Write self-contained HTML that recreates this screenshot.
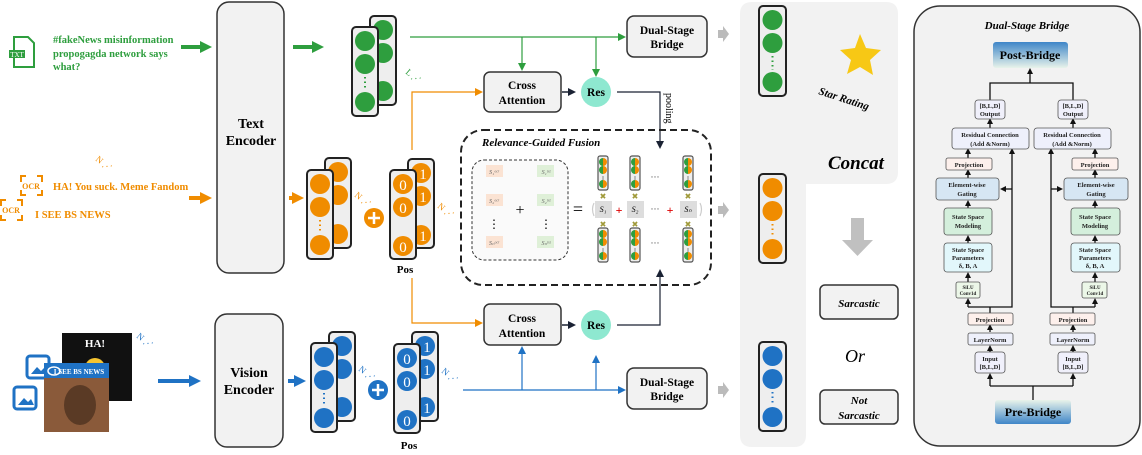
<!DOCTYPE html>
<html><head><meta charset="utf-8"><style>
html,body{margin:0;padding:0;background:#fff}
svg text{font-family:"Liberation Serif",serif}
</style></head><body>
<svg width="1142" height="450" viewBox="0 0 1142 450" xmlns="http://www.w3.org/2000/svg">
<defs>
<marker id="ag" markerWidth="8" markerHeight="8" refX="6" refY="4" orient="auto" markerUnits="userSpaceOnUse"><path d="M0,0 L8,4 L0,8z" fill="#2e9e3e"/></marker>
<marker id="ao" markerWidth="8" markerHeight="8" refX="6" refY="4" orient="auto" markerUnits="userSpaceOnUse"><path d="M0,0 L8,4 L0,8z" fill="#f08c00"/></marker>
<marker id="ab" markerWidth="8" markerHeight="8" refX="6" refY="4" orient="auto" markerUnits="userSpaceOnUse"><path d="M0,0 L8,4 L0,8z" fill="#1f72c4"/></marker>
<marker id="Ag" markerWidth="12" markerHeight="12" refX="6" refY="6" orient="auto" markerUnits="userSpaceOnUse"><path d="M0,0 L12,6 L0,12z" fill="#2e9e3e"/></marker>
<marker id="Ao" markerWidth="12" markerHeight="12" refX="6" refY="6" orient="auto" markerUnits="userSpaceOnUse"><path d="M0,0 L12,6 L0,12z" fill="#f08c00"/></marker>
<marker id="Ab" markerWidth="12" markerHeight="12" refX="6" refY="6" orient="auto" markerUnits="userSpaceOnUse"><path d="M0,0 L12,6 L0,12z" fill="#1f72c4"/></marker>
<marker id="ak" markerWidth="8" markerHeight="8" refX="6" refY="4" orient="auto" markerUnits="userSpaceOnUse"><path d="M0,0 L8,4 L0,8z" fill="#1a2233"/></marker>
<marker id="as" markerWidth="6" markerHeight="6" refX="4" refY="3" orient="auto" markerUnits="userSpaceOnUse"><path d="M0,0 L6,3 L0,6z" fill="#111"/></marker>
<linearGradient id="gb" x1="0" y1="0" x2="0" y2="1"><stop offset="0" stop-color="#3f86c8"/><stop offset="1" stop-color="#e8f3ea"/></linearGradient>
<linearGradient id="gb2" x1="0" y1="0" x2="0" y2="1"><stop offset="0" stop-color="#e8f3ea"/><stop offset="1" stop-color="#3f86c8"/></linearGradient>
<linearGradient id="og" x1="0" y1="0" x2="1" y2="0"><stop offset="0.5" stop-color="#2e9e3e"/><stop offset="0.5" stop-color="#f08c00"/></linearGradient>
<g id="mini"><rect x="-5" y="0" width="10" height="34" rx="2" fill="#eee" stroke="#555" stroke-width="1.2"/><circle cy="6" r="4" fill="url(#og)"/><circle cy="14" r="4" fill="url(#og)"/><line x1="0" y1="20" x2="0" y2="24" stroke="#888"/><circle cy="28" r="4" fill="url(#og)"/></g>
</defs>

<!-- TEXT row -->
<g fill="none" stroke="#2e9e3e" stroke-width="2"><path d="M14,37 h14 l6,6 v24 h-20z"/></g>
<rect x="9" y="50" width="16" height="8" fill="#2e9e3e"/><text x="17" y="57" font-size="7" fill="#fff" text-anchor="middle" font-family="Liberation Sans">TXT</text>
<g font-size="10.5" font-weight="bold" fill="#2e9e3e"><text x="53" y="43">#fakeNews misinformation</text><text x="53" y="57">propogagda network says</text><text x="53" y="70">what?</text></g>
<line x1="181" y1="47" x2="206" y2="47" stroke="#2e9e3e" stroke-width="4" marker-end="url(#Ag)"/>
<line x1="293" y1="47" x2="318" y2="47" stroke="#2e9e3e" stroke-width="4" marker-end="url(#Ag)"/>

<rect x="217" y="2" width="67" height="271" rx="12" fill="#f2f2f2" stroke="#333" stroke-width="1.5"/>
<text x="251" y="128" font-size="14" font-weight="bold" text-anchor="middle">Text</text>
<text x="251" y="145" font-size="14" font-weight="bold" text-anchor="middle">Encoder</text>

<!-- green stacks -->
<rect x="370" y="16" width="26" height="89" rx="4" fill="#eee" stroke="#222" stroke-width="2"/>
<circle cx="383" cy="30" r="10" fill="#2e9e3e"/><circle cx="383" cy="53" r="10" fill="#2e9e3e"/><circle cx="383" cy="91" r="10" fill="#2e9e3e"/>
<rect x="352" y="27" width="26" height="89" rx="4" fill="#eee" stroke="#222" stroke-width="2"/>
<circle cx="365" cy="41" r="10" fill="#2e9e3e"/><circle cx="365" cy="64" r="10" fill="#2e9e3e"/><circle cx="365" cy="102" r="10" fill="#2e9e3e"/>
<line x1="365" y1="77" x2="365" y2="90" stroke="#2e9e3e" stroke-width="2" stroke-dasharray="1.5,3"/>
<text x="405" y="73" font-size="9" fill="#2e9e3e" transform="rotate(40 405 73)">L ⋰</text>

<!-- green lines -->
<line x1="410" y1="37" x2="624" y2="37" stroke="#2e9e3e" stroke-width="1.2" marker-end="url(#ag)"/>
<line x1="522" y1="37" x2="522" y2="69" stroke="#2e9e3e" stroke-width="1.2" marker-end="url(#ag)"/>
<line x1="596" y1="37" x2="596" y2="75" stroke="#2e9e3e" stroke-width="1.2" marker-end="url(#ag)"/>

<rect x="627" y="16" width="80" height="41" rx="7" fill="#f2f2f2" stroke="#333" stroke-width="1.5"/>
<text x="667" y="34" font-size="11.5" font-weight="bold" text-anchor="middle">Dual-Stage</text>
<text x="667" y="48" font-size="11.5" font-weight="bold" text-anchor="middle">Bridge</text>

<!-- OCR row -->
<g fill="none" stroke="#f08c00" stroke-width="2">
<path d="M21,182 v-6 h5 M37,176 h5 v6 M21,190 v5 h5 M37,195 h5 v-5"/>
<path d="M1,206 v-6 h5 M17,200 h5 v6 M1,215 v5 h5 M17,220 h5 v-5"/>
</g>
<text x="31" y="189" font-size="8" fill="#f08c00" text-anchor="middle" font-family="Liberation Sans" font-weight="bold">OCR</text>
<text x="11" y="213" font-size="8" fill="#f08c00" text-anchor="middle" font-family="Liberation Sans" font-weight="bold">OCR</text>
<g font-size="10.5" font-weight="bold" fill="#f08c00"><text x="53" y="190">HA! You suck. Meme Fandom</text><text x="35" y="218">I SEE BS NEWS</text></g>
<text x="95" y="160" font-size="9" fill="#f08c00" transform="rotate(40 95 160)">N ⋰</text>
<line x1="189" y1="198" x2="206" y2="198" stroke="#f08c00" stroke-width="4" marker-end="url(#Ao)"/>
<line x1="289" y1="198" x2="298" y2="198" stroke="#f08c00" stroke-width="4" marker-end="url(#Ao)"/>

<!-- orange stacks -->
<rect x="325" y="158" width="26" height="90" rx="4" fill="#eee" stroke="#222" stroke-width="2"/>
<circle cx="338" cy="172" r="10" fill="#f08c00"/><circle cx="338" cy="195" r="10" fill="#f08c00"/><circle cx="338" cy="234" r="10" fill="#f08c00"/>
<rect x="307" y="170" width="26" height="89" rx="4" fill="#eee" stroke="#222" stroke-width="2"/>
<circle cx="320" cy="184" r="10" fill="#f08c00"/><circle cx="320" cy="207" r="10" fill="#f08c00"/><circle cx="320" cy="245" r="10" fill="#f08c00"/>
<line x1="320" y1="220" x2="320" y2="233" stroke="#f08c00" stroke-width="2" stroke-dasharray="1.5,3"/>
<text x="354" y="196" font-size="9" fill="#f08c00" transform="rotate(40 354 196)">N ⋰</text>
<circle cx="374" cy="218" r="10" fill="#f08c00"/><path d="M368,218 h12 M374,212 v12" stroke="#fff" stroke-width="2.5"/>
<rect x="408" y="159" width="26" height="89" rx="4" fill="#eee" stroke="#222" stroke-width="2"/>
<g fill="#f08c00"><circle cx="421" cy="173" r="10"/><circle cx="421" cy="196" r="10"/><circle cx="421" cy="235" r="10"/></g>
<rect x="390" y="170" width="26" height="89" rx="4" fill="#eee" stroke="#222" stroke-width="2"/>
<g fill="#f08c00"><circle cx="403" cy="184" r="10"/><circle cx="403" cy="207" r="10"/><circle cx="403" cy="246" r="10"/></g>
<g font-family="Liberation Sans" font-size="15" fill="#fff" text-anchor="middle"><text x="403" y="190">0</text><text x="403" y="213">0</text><text x="403" y="252">0</text><text x="423" y="179">1</text><text x="423" y="202">1</text><text x="423" y="241">1</text></g>
<text x="437" y="207" font-size="9" fill="#f08c00" transform="rotate(40 437 207)">N ⋰</text>
<text x="405" y="273" font-size="11" font-weight="bold" text-anchor="middle">Pos</text>

<!-- orange lines -->
<path d="M412,150 V92 H481" fill="none" stroke="#f08c00" stroke-width="1.2" marker-end="url(#ao)"/>
<path d="M412,278 V323 H481" fill="none" stroke="#f08c00" stroke-width="1.2" marker-end="url(#ao)"/>

<!-- cross attention -->
<rect x="484" y="72" width="77" height="40" rx="6" fill="#f2f2f2" stroke="#333" stroke-width="1.5"/>
<text x="522" y="89" font-size="11.5" font-weight="bold" text-anchor="middle">Cross</text>
<text x="522" y="104" font-size="11.5" font-weight="bold" text-anchor="middle">Attention</text>
<rect x="484" y="304" width="77" height="41" rx="6" fill="#f2f2f2" stroke="#333" stroke-width="1.5"/>
<text x="522" y="322" font-size="11.5" font-weight="bold" text-anchor="middle">Cross</text>
<text x="522" y="337" font-size="11.5" font-weight="bold" text-anchor="middle">Attention</text>
<line x1="562" y1="92" x2="574" y2="92" stroke="#1a2233" stroke-width="1.5" marker-end="url(#ak)"/>
<line x1="562" y1="325" x2="574" y2="325" stroke="#1a2233" stroke-width="1.5" marker-end="url(#ak)"/>
<circle cx="596" cy="92" r="15" fill="#8ee8d0"/><text x="596" y="96" font-size="11.5" font-weight="bold" text-anchor="middle">Res</text>
<circle cx="596" cy="325" r="15" fill="#8ee8d0"/><text x="596" y="329" font-size="11.5" font-weight="bold" text-anchor="middle">Res</text>
<path d="M617,92 H660 V147" fill="none" stroke="#1a2233" stroke-width="1.2" marker-end="url(#ak)"/>
<path d="M617,325 H660 V271" fill="none" stroke="#1a2233" stroke-width="1.2" marker-end="url(#ak)"/>
<text x="666" y="93" font-size="10" transform="rotate(90 666 93)">pooling</text>

<!-- fusion box -->
<rect x="461" y="130" width="250" height="155" rx="22" fill="none" stroke="#222" stroke-width="2" stroke-dasharray="7,4"/>
<text x="482" y="146" font-size="11" font-weight="bold" font-style="italic">Relevance-Guided Fusion</text>
<rect x="472" y="160" width="96" height="100" rx="12" fill="#fafafa" stroke="#333" stroke-width="1" stroke-dasharray="3,2"/>
<g fill="#fbe3d3"><rect x="486" y="165" width="17" height="12"/><rect x="486" y="194" width="17" height="12"/><rect x="486" y="236" width="17" height="12"/></g>
<g fill="#dff0d8"><rect x="537" y="165" width="17" height="12"/><rect x="537" y="194" width="17" height="12"/><rect x="537" y="236" width="17" height="12"/></g>
<g font-size="6" font-style="italic" fill="#666" text-anchor="middle"><text x="494" y="174">S₁ᵒᶜʳ</text><text x="494" y="203">S₂ᵒᶜʳ</text><text x="494" y="245">Sₙᵒᶜʳ</text><text x="546" y="174">S₁ᵗˣᵗ</text><text x="546" y="203">S₂ᵗˣᵗ</text><text x="546" y="245">Sₙᵗˣᵗ</text></g>
<text x="494" y="228" font-size="12" text-anchor="middle">⋮</text><text x="546" y="228" font-size="12" text-anchor="middle">⋮</text>
<text x="520" y="215" font-size="16" text-anchor="middle">+</text>
<text x="578" y="215" font-size="18" text-anchor="middle">=</text>
<use href="#mini" x="603" y="156"/><use href="#mini" x="635" y="156"/><use href="#mini" x="688" y="156"/>
<use href="#mini" x="603" y="228"/><use href="#mini" x="635" y="228"/><use href="#mini" x="688" y="228"/>
<g fill="#a09a3a" font-size="8" text-anchor="middle" font-family="Liberation Sans"><text x="603" y="199">✖</text><text x="635" y="199">✖</text><text x="688" y="199">✖</text><text x="603" y="227">✖</text><text x="635" y="227">✖</text><text x="688" y="227">✖</text></g>
<g fill="#ddd"><rect x="595" y="201" width="17" height="17"/><rect x="627" y="201" width="17" height="17"/><rect x="680" y="201" width="17" height="17"/></g>
<g font-size="8" font-style="italic" text-anchor="middle"><text x="603" y="212">S₁</text><text x="635" y="212">S₂</text><text x="688" y="212">Sₙ</text></g>
<g fill="#d00" font-size="12" font-weight="bold" text-anchor="middle"><text x="619" y="214">+</text><text x="670" y="214">+</text></g>
<g font-size="9" text-anchor="middle" fill="#333"><text x="655" y="212">···</text><text x="655" y="180">···</text><text x="655" y="246">···</text></g>
<path d="M594,203 q-3,6 0,13 M700,203 q3,6 0,13" fill="none" stroke="#ccc" stroke-width="1.2"/>

<!-- vision row -->
<rect x="62" y="333" width="70" height="68" fill="#111"/>
<text x="95" y="347" font-size="11" fill="#fff" text-anchor="middle" font-family="Liberation Sans" font-weight="bold">HA!</text>
<circle cx="95" cy="368" r="10" fill="#f7c531"/>
<rect x="27" y="356" width="22" height="22" rx="3" fill="#fff" stroke="#1f72c4" stroke-width="3"/>
<path d="M31,374 l6,-7 l4,4 l3,-3 l3,6z" fill="#1f72c4"/>
<rect x="44" y="363" width="65" height="15" fill="#1f72c4"/>
<text x="79" y="374" font-size="7" fill="#fff" text-anchor="middle" font-family="Liberation Sans" font-weight="bold">I SEE BS NEWS</text>
<ellipse cx="54" cy="371" rx="6" ry="4" fill="none" stroke="#fff" stroke-width="1.5"/>
<rect x="44" y="378" width="65" height="54" fill="#8a5a3a"/>
<ellipse cx="80" cy="405" rx="16" ry="20" fill="#5a3a25"/>
<rect x="14" y="387" width="22" height="22" rx="3" fill="#fff" stroke="#1f72c4" stroke-width="3"/>
<path d="M18,405 l6,-7 l4,4 l3,-3 l3,6z" fill="#1f72c4"/>
<text x="136" y="337" font-size="9" fill="#1f72c4" transform="rotate(40 136 337)">N ⋰</text>
<line x1="158" y1="381" x2="195" y2="381" stroke="#1f72c4" stroke-width="4" marker-end="url(#Ab)"/>
<rect x="215" y="314" width="68" height="133" rx="12" fill="#f2f2f2" stroke="#333" stroke-width="1.5"/>
<text x="249" y="377" font-size="14" font-weight="bold" text-anchor="middle">Vision</text>
<text x="249" y="394" font-size="14" font-weight="bold" text-anchor="middle">Encoder</text>
<line x1="288" y1="381" x2="300" y2="381" stroke="#1f72c4" stroke-width="4" marker-end="url(#Ab)"/>
<rect x="329" y="332" width="26" height="89" rx="4" fill="#eee" stroke="#222" stroke-width="2"/>
<g fill="#1f72c4"><circle cx="342" cy="346" r="10"/><circle cx="342" cy="369" r="10"/><circle cx="342" cy="407" r="10"/></g>
<rect x="311" y="343" width="26" height="89" rx="4" fill="#eee" stroke="#222" stroke-width="2"/>
<g fill="#1f72c4"><circle cx="324" cy="357" r="10"/><circle cx="324" cy="380" r="10"/><circle cx="324" cy="418" r="10"/></g>
<line x1="324" y1="393" x2="324" y2="406" stroke="#1f72c4" stroke-width="2" stroke-dasharray="1.5,3"/>
<text x="358" y="370" font-size="9" fill="#1f72c4" transform="rotate(40 358 370)">N ⋰</text>
<circle cx="378" cy="390" r="10" fill="#1f72c4"/><path d="M372,390 h12 M378,384 v12" stroke="#fff" stroke-width="2.5"/>
<rect x="412" y="332" width="26" height="89" rx="4" fill="#eee" stroke="#222" stroke-width="2"/>
<g fill="#1f72c4"><circle cx="425" cy="346" r="10"/><circle cx="425" cy="369" r="10"/><circle cx="425" cy="407" r="10"/></g>
<rect x="394" y="344" width="26" height="89" rx="4" fill="#eee" stroke="#222" stroke-width="2"/>
<g fill="#1f72c4"><circle cx="407" cy="358" r="10"/><circle cx="407" cy="381" r="10"/><circle cx="407" cy="420" r="10"/></g>
<g font-family="Liberation Sans" font-size="15" fill="#fff" text-anchor="middle"><text x="407" y="364">0</text><text x="407" y="387">0</text><text x="407" y="426">0</text><text x="427" y="352">1</text><text x="427" y="375">1</text><text x="427" y="413">1</text></g>
<text x="441" y="372" font-size="9" fill="#1f72c4" transform="rotate(40 441 372)">N ⋰</text>
<text x="409" y="449" font-size="11" font-weight="bold" text-anchor="middle">Pos</text>
<line x1="463" y1="390" x2="624" y2="390" stroke="#1f72c4" stroke-width="1.2" marker-end="url(#ab)"/>
<line x1="522" y1="390" x2="522" y2="348" stroke="#1f72c4" stroke-width="1.2" marker-end="url(#ab)"/>
<line x1="596" y1="390" x2="596" y2="357" stroke="#1f72c4" stroke-width="1.2" marker-end="url(#ab)"/>
<rect x="627" y="368" width="80" height="41" rx="7" fill="#f2f2f2" stroke="#333" stroke-width="1.5"/>
<text x="667" y="386" font-size="11.5" font-weight="bold" text-anchor="middle">Dual-Stage</text>
<text x="667" y="400" font-size="11.5" font-weight="bold" text-anchor="middle">Bridge</text>

<!-- gray arrows -->
<g fill="#bbb"><path d="M718,30 h5 v-4 l6,8 l-6,8 v-4 h-5z"/><path d="M718,206 h5 v-4 l6,8 l-6,8 v-4 h-5z"/><path d="M718,386 h5 v-4 l6,8 l-6,8 v-4 h-5z"/></g>

<!-- concat panel -->
<path d="M752,2 H886 Q898,2 898,14 V172 Q898,184 886,184 H806 V435 Q806,447 794,447 H752 Q740,447 740,435 V14 Q740,2 752,2z" fill="#f2f2f2"/>
<rect x="759" y="6" width="27" height="90" rx="4" fill="#eee" stroke="#222" stroke-width="2"/>
<g fill="#2e9e3e"><circle cx="772.5" cy="20" r="10"/><circle cx="772.5" cy="43" r="10"/><circle cx="772.5" cy="82" r="10"/></g>
<line x1="772.5" y1="56" x2="772.5" y2="70" stroke="#2e9e3e" stroke-width="2" stroke-dasharray="1.5,3"/>
<rect x="759" y="174" width="27" height="89" rx="4" fill="#eee" stroke="#222" stroke-width="2"/>
<g fill="#f08c00"><circle cx="772.5" cy="188" r="10"/><circle cx="772.5" cy="211" r="10"/><circle cx="772.5" cy="249" r="10"/></g>
<line x1="772.5" y1="224" x2="772.5" y2="237" stroke="#f08c00" stroke-width="2" stroke-dasharray="1.5,3"/>
<rect x="759" y="342" width="27" height="89" rx="4" fill="#eee" stroke="#222" stroke-width="2"/>
<g fill="#1f72c4"><circle cx="772.5" cy="356" r="10"/><circle cx="772.5" cy="379" r="10"/><circle cx="772.5" cy="417" r="10"/></g>
<line x1="772.5" y1="392" x2="772.5" y2="405" stroke="#1f72c4" stroke-width="2" stroke-dasharray="1.5,3"/>
<path d="M860,34 l6,14 l15,2 l-11,10 l3,15 l-13,-8 l-13,7 l4,-14 l-11,-10 l15,-2z" fill="#f7c815"/>
<text x="818" y="94" font-size="11" font-weight="bold" font-style="italic" transform="rotate(18 818 94)">Star Rating</text>
<text x="828" y="169" font-size="19" font-weight="bold" font-style="italic">Concat</text>
<path d="M851,218 h13 v22 h9 l-15.5,16 l-15.5,-16 h9z" fill="#c0c0c0"/>
<rect x="820" y="285" width="78" height="34" rx="5" fill="#f2f2f2" stroke="#333" stroke-width="1.5"/>
<text x="859" y="307" font-size="11" font-weight="bold" font-style="italic" text-anchor="middle">Sarcastic</text>
<text x="855" y="362" font-size="18" font-style="italic" text-anchor="middle">Or</text>
<rect x="820" y="390" width="78" height="34" rx="5" fill="#f2f2f2" stroke="#333" stroke-width="1.5"/>
<text x="859" y="404" font-size="11" font-weight="bold" font-style="italic" text-anchor="middle">Not</text>
<text x="859" y="419" font-size="11" font-weight="bold" font-style="italic" text-anchor="middle">Sarcastic</text>

<!-- Dual-stage bridge panel -->
<rect x="914" y="6" width="226" height="440" rx="26" fill="#f2f2f2" stroke="#333" stroke-width="1.5"/>
<text x="1027" y="29" font-size="11" font-weight="bold" font-style="italic" text-anchor="middle">Dual-Stage Bridge</text>
<rect x="993" y="42" width="75" height="26" rx="3" fill="url(#gb)"/>
<text x="1030" y="59" font-size="12" font-weight="bold" text-anchor="middle">Post-Bridge</text>
<rect x="995" y="400" width="76" height="24" rx="3" fill="url(#gb2)"/>
<text x="1033" y="416" font-size="12" font-weight="bold" text-anchor="middle">Pre-Bridge</text>

<g fill="none" stroke="#111" stroke-width="1.3">
<path d="M990,100 V83 H1073 V100"/>
<line x1="1030" y1="83" x2="1030" y2="70" marker-end="url(#as)"/>
<path d="M1033,400 V386 H990 M1033,386 H1073"/>
<line x1="990" y1="386" x2="990" y2="375" marker-end="url(#as)"/>
<line x1="1073" y1="386" x2="1073" y2="375" marker-end="url(#as)"/>
<line x1="990" y1="352" x2="990" y2="347" marker-end="url(#as)"/>
<line x1="990" y1="332" x2="990" y2="326" marker-end="url(#as)"/>
<path d="M990,313 V307 H968 M990,307 H1012 V150" marker-end="url(#as)"/>
<line x1="968" y1="307" x2="968" y2="300" marker-end="url(#as)"/>
<line x1="968" y1="282" x2="968" y2="274" marker-end="url(#as)"/>
<line x1="968" y1="243" x2="968" y2="237" marker-end="url(#as)"/>
<line x1="968" y1="208" x2="968" y2="202" marker-end="url(#as)"/>
<line x1="968" y1="178" x2="968" y2="171" marker-end="url(#as)"/>
<line x1="968" y1="158" x2="968" y2="150" marker-end="url(#as)"/>
<line x1="990" y1="128" x2="990" y2="120" marker-end="url(#as)"/>
<line x1="1012" y1="189" x2="1002" y2="189" marker-end="url(#as)"/>
<line x1="1073" y1="352" x2="1073" y2="347" marker-end="url(#as)"/>
<line x1="1073" y1="332" x2="1073" y2="326" marker-end="url(#as)"/>
<path d="M1073,313 V307 H1095 M1073,307 H1051 V150" marker-end="url(#as)"/>
<line x1="1095" y1="307" x2="1095" y2="300" marker-end="url(#as)"/>
<line x1="1095" y1="282" x2="1095" y2="274" marker-end="url(#as)"/>
<line x1="1095" y1="243" x2="1095" y2="237" marker-end="url(#as)"/>
<line x1="1095" y1="208" x2="1095" y2="202" marker-end="url(#as)"/>
<line x1="1095" y1="178" x2="1095" y2="171" marker-end="url(#as)"/>
<line x1="1095" y1="158" x2="1095" y2="150" marker-end="url(#as)"/>
<line x1="1073" y1="128" x2="1073" y2="120" marker-end="url(#as)"/>
<line x1="1051" y1="189" x2="1061" y2="189" marker-end="url(#as)"/>
</g>

<g stroke="#555" stroke-width="0.8">
<rect x="975" y="100" width="30" height="19" rx="3" fill="#f0f0fb"/>
<rect x="952" y="128" width="77" height="21" rx="3" fill="#eef0fb"/>
<rect x="946" y="158" width="46" height="12" rx="2" fill="#fdf0ec"/>
<rect x="936" y="178" width="63" height="22" rx="3" fill="#d6e6f3"/>
<rect x="944" y="208" width="48" height="27" rx="3" fill="#d4efdc"/>
<rect x="944" y="243" width="48" height="29" rx="3" fill="#e2f7fb"/>
<rect x="956" y="282" width="24" height="16" rx="2" fill="#ecf7e8"/>
<rect x="968" y="313" width="45" height="12" rx="2" fill="#fdf0ec"/>
<rect x="968" y="333" width="45" height="12" rx="2" fill="#eef0fb"/>
<rect x="975" y="352" width="30" height="21" rx="3" fill="#f0f0fb"/>
<rect x="1058" y="100" width="30" height="19" rx="3" fill="#f0f0fb"/>
<rect x="1034" y="128" width="77" height="21" rx="3" fill="#eef0fb"/>
<rect x="1072" y="158" width="46" height="12" rx="2" fill="#fdf0ec"/>
<rect x="1064" y="178" width="64" height="22" rx="3" fill="#d6e6f3"/>
<rect x="1071" y="208" width="49" height="27" rx="3" fill="#d4efdc"/>
<rect x="1071" y="243" width="49" height="29" rx="3" fill="#e2f7fb"/>
<rect x="1082" y="282" width="25" height="16" rx="2" fill="#ecf7e8"/>
<rect x="1050" y="313" width="45" height="12" rx="2" fill="#fdf0ec"/>
<rect x="1050" y="333" width="45" height="12" rx="2" fill="#eef0fb"/>
<rect x="1058" y="352" width="30" height="21" rx="3" fill="#f0f0fb"/>
</g>
<g font-size="6.5" font-weight="bold" text-anchor="middle" fill="#222">
<text x="990" y="108">[B,L,D]</text><text x="990" y="116">Output</text>
<text x="990" y="137">Residual Connection</text><text x="990" y="146">(Add &amp;Norm)</text>
<text x="969" y="167">Projection</text>
<text x="967" y="187">Element-wise</text><text x="967" y="196">Gating</text>
<text x="968" y="219">State Space</text><text x="968" y="228">Modeling</text>
<text x="968" y="252">State Space</text><text x="968" y="260">Parameters</text><text x="968" y="268">δ, B, A</text>
<text x="968" y="289" font-size="5">SiLU</text><text x="968" y="295" font-size="5">Conv1d</text>
<text x="990" y="322">Projection</text>
<text x="990" y="342">LayerNorm</text>
<text x="990" y="361">Input</text><text x="990" y="369">[B,L,D]</text>
<text x="1073" y="108">[B,L,D]</text><text x="1073" y="116">Output</text>
<text x="1072" y="137">Residual Connection</text><text x="1072" y="146">(Add &amp;Norm)</text>
<text x="1095" y="167">Projection</text>
<text x="1096" y="187">Element-wise</text><text x="1096" y="196">Gating</text>
<text x="1095" y="219">State Space</text><text x="1095" y="228">Modeling</text>
<text x="1095" y="252">State Space</text><text x="1095" y="260">Parameters</text><text x="1095" y="268">δ, B, A</text>
<text x="1095" y="289" font-size="5">SiLU</text><text x="1095" y="295" font-size="5">Conv1d</text>
<text x="1073" y="322">Projection</text>
<text x="1073" y="342">LayerNorm</text>
<text x="1073" y="361">Input</text><text x="1073" y="369">[B,L,D]</text>
</g>
</svg>
</body></html>
